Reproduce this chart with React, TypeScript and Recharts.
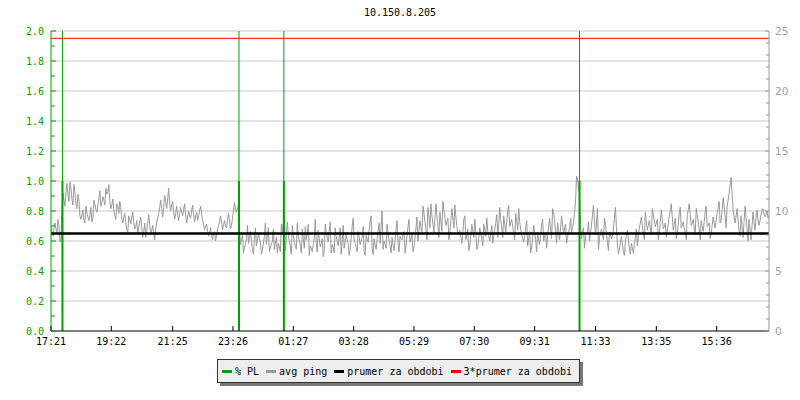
import React from "react";
import { LineChart, Line, XAxis, YAxis, ReferenceLine } from "recharts";

// ---- data ----
const TITLE = "10.150.8.205";
const STEP_MIN = 4; // minutes between main ping samples (mid samples sit halfway)
const X_DOMAIN: [number, number] = [0, 1440];
const xTickMinutes = [0, 121, 244, 365, 486, 607, 728, 849, 970, 1092, 1214, 1335];
const xTickLabels = ["17:21", "19:22", "21:25", "23:26", "01:27", "03:28", "05:29", "07:30", "09:31", "11:33", "13:35", "15:36"];

const leftTicks = [0, 0.1, 0.2, 0.3, 0.4, 0.5, 0.6, 0.7, 0.8, 0.9, 1.0, 1.1, 1.2, 1.3, 1.4, 1.5, 1.6, 1.7, 1.8, 1.9, 2.0];
const leftMajor = [0.2, 0.4, 0.6, 0.8, 1.0, 1.2, 1.4, 1.6, 1.8, 2.0];
const rightTicks = [0, 1, 2, 3, 4, 5, 6, 7, 8, 9, 10, 11, 12, 13, 14, 15, 16, 17, 18, 19, 20, 21, 22, 23, 24, 25];

// packet loss spikes (% PL): minute offset and value
const plMinutes = [23, 377, 467, 1060];
const plValues = [1.0, 1.0, 1.0, 1.0];

// average ping in ms (right axis), one value every STEP_MIN minutes
const pingMs = [
  8.6, 7.9, 9.0, 8.2, 8.8, 7.6,
  11.5, 10.4, 12.3, 10.8, 11.9, 10.5, 11.6,
  10.2, 10.9,
  9.3, 10.1, 9.0, 9.8, 9.2, 10.3, 9.4,
  10.6, 9.9, 11.0, 10.4, 11.2, 10.5, 11.4, 12.2,
  10.2, 11.0, 9.6, 10.6, 9.8, 10.3,
  9.0, 9.8, 8.4, 9.6, 8.9, 9.9, 8.5, 9.2,
  8.6, 9.5, 7.8, 9.0, 8.3, 9.7, 8.0, 8.8, 7.6, 9.1,
  9.8, 10.9, 9.5, 11.3, 10.2, 11.9, 10.0, 10.8, 9.3, 10.4,
  9.2, 10.3, 9.6, 10.6, 9.0, 10.0, 9.4, 10.5, 9.1, 9.9, 9.6, 10.4, 9.2,
  8.4, 8.9, 7.9, 8.6, 7.6, 8.3, 8.0,
  8.8, 9.6, 8.4, 9.2, 8.6, 9.8, 8.5, 9.4,
  10.7, 9.9, 10.5,
  7.2, 8.0, 6.9, 7.7, 7.3, 8.3, 6.8, 7.6, 7.1, 8.1, 7.4, 6.7, 7.9, 7.2, 8.6, 7.0, 7.5, 6.8, 7.8, 7.3, 6.6, 8.2, 9.8, 8.0,
  8.1, 7.0, 8.8, 7.4, 6.8, 7.9, 7.2, 8.5, 6.9, 7.6, 8.9, 7.1, 6.6, 7.8, 7.3, 8.4, 7.0, 7.7, 6.7, 8.2,
  7.4, 9.1, 7.2, 6.5, 7.9, 7.1, 8.6, 7.5, 6.9, 8.0, 7.3, 6.8, 8.7, 7.6, 7.0, 8.3, 7.2, 7.8, 6.6, 8.1,
  7.4, 9.2, 7.0, 7.7, 6.8, 8.4, 7.3, 10.0, 7.5, 6.9, 8.2, 7.1, 7.8, 6.7, 8.5, 7.2, 7.9,
  7.6, 8.3, 7.0, 8.7, 7.4, 8.0, 6.9, 8.6, 7.5, 9.2, 8.1, 9.8, 8.4, 10.3, 8.6, 9.6, 8.2,
  10.6, 8.7, 9.9, 8.3, 10.1, 8.8, 9.4, 8.2, 10.2, 8.6, 9.5, 8.0,
  8.4, 7.3, 9.3, 7.6, 8.5, 7.1, 8.9, 7.8, 8.2, 7.0,
  8.6, 7.7, 8.9, 7.9, 8.3, 7.5, 8.8, 8.0, 9.0, 7.8,
  10.3, 8.5, 9.6, 8.2, 10.0, 8.7, 9.3, 8.1, 9.8, 8.4, 9.1, 8.0,
  7.4, 8.6, 7.1, 8.3, 6.9, 8.8, 7.6, 8.1, 7.2, 8.9, 7.5, 8.2,
  8.0, 9.4, 7.7, 9.9, 8.3, 9.0, 7.6, 9.6,
  8.1, 8.9, 7.8, 8.6, 8.2, 9.1,
  10.8, 12.7, 11.5,
  7.7, 8.6, 7.9, 8.3, 7.5, 8.8, 10.5, 8.0, 10.2, 7.8, 8.5, 7.6, 8.9, 7.4, 8.2, 7.7, 8.4,
  10.3, 7.2, 6.8, 7.9, 6.6, 7.5, 8.4, 6.9, 7.3, 6.5, 7.8, 7.1,
  8.6, 9.5, 8.1, 9.9, 8.4, 9.2, 8.0, 9.7, 8.7, 9.3, 8.2, 10.1, 8.5, 9.0, 8.3, 9.6, 10.6,
  8.4, 9.4, 8.1, 9.8, 8.6, 9.1, 8.2, 9.6, 10.6, 8.8, 9.3, 8.0, 9.7, 8.5, 9.2, 8.3, 9.9, 8.7, 9.0, 8.1, 9.5, 8.6,
  9.8, 10.8, 9.2, 11.1, 9.6, 10.4, 11.5, 12.8, 10.1,
  9.0, 10.2, 8.3, 9.6, 7.8, 10.4, 8.6, 9.3, 7.6, 9.9, 8.4, 10.1, 8.8,
  9.7, 10.2, 9.5, 10.0, 9.6,
];

// ping samples taken halfway between consecutive pingMs samples
const pingMidMs = [
  8.1, 8.7, 8.5, 9.3, 7.4, 10.2,
  10.9, 11.6, 11.4, 12.4, 11.0, 12.2, 10.6,
  11.4, 9.6,
  9.6, 9.2, 10.4, 9.5, 9.7, 9.1, 10.9,
  10.1, 10.5, 11.7, 10.7, 10.9, 11.9, 11.6, 10.8,
  10.5, 10.0, 9.3, 10.4, 10.8, 9.4,
  9.5, 9.0, 8.2, 9.3, 9.5, 9.0, 8.7, 8.1,
  9.1, 8.6, 8.3, 7.8, 9.0, 8.9, 8.4, 8.1, 8.5, 9.4,
  10.3, 10.2, 10.3, 10.8, 11.0, 10.6, 10.5, 9.9, 9.8, 9.6,
  9.8, 9.9, 10.1, 9.7, 9.5, 9.6, 10.0, 9.7, 9.6, 9.2, 10.0, 9.8, 8.9,
  8.7, 8.3, 8.2, 8.0, 8.1, 7.5, 8.5,
  9.1, 9.0, 8.9, 8.7, 9.3, 9.1, 8.8, 10.0,
  10.1, 10.3, 8.6,
  7.6, 6.5, 7.3, 8.8, 7.8, 7.5, 6.4, 8.6, 7.6, 7.7, 6.4, 7.3, 9.0, 7.9, 6.6, 7.2, 8.5, 7.3, 6.5, 7.0, 8.9, 9.0, 6.7, 9.1,
  7.5, 6.4, 8.0, 7.1, 9.0, 7.5, 6.5, 7.7, 8.7, 8.2, 6.3, 6.9, 7.2, 9.3, 6.6, 7.7, 7.3, 6.2, 8.9, 7.8,
  8.3, 6.5, 6.9, 8.6, 7.5, 7.8, 6.4, 8.8, 7.4, 7.6, 6.3, 7.7, 9.4, 7.3, 6.6, 7.8, 7.5, 8.7, 6.3, 7.7,
  8.3, 9.6, 6.4, 7.2, 7.6, 9.0, 8.6, 6.8, 7.2, 8.9, 7.6, 6.5, 7.2, 7.6, 9.2, 6.6, 7.7,
  8.0, 6.5, 7.9, 9.3, 7.7, 6.6, 7.8, 9.5, 8.4, 8.6, 10.4, 9.1, 7.6, 9.5, 10.6, 8.9, 9.4,
  9.6, 7.8, 9.1, 10.8, 9.5, 9.1, 7.6, 9.2, 9.4, 10.5, 8.7, 8.2,
  7.8, 8.3, 9.6, 8.0, 6.7, 8.0, 8.3, 9.3, 6.8, 7.8,
  8.1, 7.1, 8.4, 9.4, 7.9, 8.1, 7.3, 8.5, 9.7, 9.0,
  9.4, 7.8, 8.9, 9.1, 10.5, 9.0, 8.7, 7.6, 9.1, 10.2, 8.5, 7.7,
  8.0, 9.2, 7.7, 6.5, 7.8, 8.2, 6.6, 7.6, 8.0, 9.3, 7.9, 6.9,
  8.7, 8.5, 10.2, 9.1, 7.3, 8.3, 8.6, 8.9,
  8.5, 7.3, 8.2, 9.4, 8.6, 9.9,
  12.9, 11.8, 8.9,
  8.2, 6.9, 8.1, 9.1, 8.2, 9.7, 9.2, 9.0, 6.8, 8.1, 8.0, 9.4, 8.1, 6.7, 8.0, 7.9, 9.4,
  8.7, 6.4, 7.4, 7.2, 6.3, 8.0, 7.6, 6.4, 6.9, 7.2, 8.5, 7.9,
  9.0, 8.8, 7.6, 9.1, 8.8, 8.6, 10.2, 9.2, 9.0, 7.6, 9.1, 9.3, 8.7, 7.8, 9.0, 10.0, 9.5,
  8.9, 7.7, 9.0, 10.3, 8.8, 8.6, 7.6, 10.1, 9.7, 9.0, 8.6, 10.2, 9.1, 7.6, 8.7, 9.1, 10.4, 8.8, 7.7, 8.8, 9.0, 9.2,
  10.3, 9.0, 10.1, 10.4, 8.6, 10.9, 12.2, 11.4, 9.5,
  9.6, 9.2, 7.9, 8.7, 9.1, 9.5, 7.5, 8.4, 8.8, 9.1, 9.4, 9.3, 9.2,
  10.0, 9.8, 9.7, 9.4,
];

const MEAN_MS = 8.13; // prumer za obdobi
const MEAN_FACTOR = 3; // 3*prumer

const legendItems = [
  { label: "% PL", color: "#00a000" },
  { label: "avg ping", color: "#999999" },
  { label: "prumer za obdobi", color: "#000000" },
  { label: "3*prumer za obdobi", color: "#ff0000" },
];

// ---- styles ----
const GREEN = "#00a000";
const GRAY = "#999999";
const GRID = "#c8c8c8";
const MONO = "'DejaVu Sans Mono', monospace";

const chartData: { t: number; ping: number }[] = [];
pingMs.forEach((v, i) => {
  chartData.push({ t: i * STEP_MIN, ping: v });
  if (i < pingMidMs.length) chartData.push({ t: i * STEP_MIN + STEP_MIN / 2, ping: pingMidMs[i] });
});

const isMajorLeft = (v: number) => Math.round(v * 10) % 2 === 0;

const LeftTick = (props: any) => {
  const { x, y, payload } = props;
  const v = payload.value as number;
  const major = isMajorLeft(v);
  const ax = x + 7;
  return (
    <g>
      <line x1={ax} x2={ax + (major ? 5 : 4)} y1={y} y2={y} stroke={GREEN} strokeWidth={1} />
      {major && (
        <text x={x} y={y + 3.5} textAnchor="end" fill={GREEN} fontFamily={MONO} fontSize={10}>
          {v.toFixed(1)}
        </text>
      )}
    </g>
  );
};

const RightTick = (props: any) => {
  const { x, y, payload } = props;
  const v = payload.value as number;
  const major = v % 5 === 0;
  return (
    <g>
      <line x1={x} x2={x - (major ? 4 : 3)} y1={y} y2={y} stroke={GRAY} strokeWidth={1} />
      {major && (
        <text x={x + 6} y={y + 4} textAnchor="start" fill="#a0a0a0" fontFamily="'DejaVu Sans', sans-serif" fontSize={10.5}>
          {String(v)}
        </text>
      )}
    </g>
  );
};

const BottomTick = (props: any) => {
  const { x, y, index } = props;
  return (
    <g>
      <line x1={x} x2={x} y1={y} y2={y - 5} stroke="#000" strokeWidth={1} />
      <text x={x} y={y + 13.5} textAnchor="middle" fill="#000" fontFamily={MONO} fontSize={10}>
        {xTickLabels[index] ?? ""}
      </text>
    </g>
  );
};

export default function App() {
  return (
    <div style={{ position: "absolute", left: 0, top: 0, width: 800, height: 400, background: "#fff" }}>
      <div
        style={{
          position: "absolute",
          top: 7,
          left: 0,
          width: 800,
          textAlign: "center",
          fontFamily: MONO,
          fontSize: 10,
          color: "#000",
        }}
      >
        {TITLE}
      </div>
      <LineChart width={800} height={400} data={chartData} margin={{ top: 31, right: 0, bottom: 0, left: 0 }}>
        {leftMajor.map((v) => (
          <ReferenceLine key={"g" + v} y={v} yAxisId="left" stroke={GRID} strokeWidth={1} />
        ))}
        <XAxis
          dataKey="t"
          type="number"
          domain={X_DOMAIN}
          ticks={xTickMinutes}
          interval={0}
          height={69}
          tickSize={0}
          tickMargin={0}
          tickLine={false}
          axisLine={{ stroke: "#000" }}
          tick={<BottomTick />}
          allowDataOverflow
        />
        <YAxis
          yAxisId="left"
          orientation="left"
          width={51}
          domain={[0, 2]}
          ticks={leftTicks}
          interval={0}
          tickSize={0}
          tickMargin={7}
          tickLine={false}
          axisLine={{ stroke: GREEN }}
          tick={<LeftTick />}
          allowDataOverflow
        />
        <YAxis
          yAxisId="right"
          orientation="right"
          width={31}
          domain={[0, 25]}
          ticks={rightTicks}
          interval={0}
          tickSize={0}
          tickMargin={0}
          tickLine={false}
          axisLine={{ stroke: GRAY }}
          tick={<RightTick />}
          allowDataOverflow
        />
        <Line
          yAxisId="right"
          dataKey="ping"
          type="linear"
          stroke={GRAY}
          strokeWidth={1}
          dot={false}
          activeDot={false}
          isAnimationActive={false}
        />
        {plMinutes.map((t) => (
          <ReferenceLine key={"v" + t} x={t} yAxisId="left" stroke={GREEN} strokeWidth={1} />
        ))}
        {plMinutes.map((t, i) => (
          <ReferenceLine
            key={"p" + t}
            yAxisId="left"
            segment={[
              { x: t, y: 0 },
              { x: t, y: plValues[i] },
            ]}
            stroke={GREEN}
            strokeWidth={2}
          />
        ))}
        <ReferenceLine y={MEAN_MS} yAxisId="right" stroke="#000" strokeWidth={2.5} />
        <ReferenceLine y={MEAN_MS * MEAN_FACTOR} yAxisId="right" stroke="#ff0000" strokeWidth={1} />
      </LineChart>
      <div
        style={{
          position: "absolute",
          left: 217,
          top: 359,
          width: 363,
          height: 24,
          boxSizing: "border-box",
          background: "#eeeeee",
          border: "1px solid #333",
          boxShadow: "3px 3px 0 #777",
          display: "flex",
          alignItems: "center",
          paddingLeft: 4,
          fontFamily: MONO,
          fontSize: 10,
          color: "#000",
          whiteSpace: "nowrap",
        }}
      >
        {legendItems.map((it) => (
          <div key={it.label} style={{ display: "flex", alignItems: "center", marginRight: 7 }}>
            <span style={{ display: "inline-block", width: 10, height: 3, background: it.color, marginRight: 3 }} />
            <span>{it.label}</span>
          </div>
        ))}
      </div>
    </div>
  );
}
